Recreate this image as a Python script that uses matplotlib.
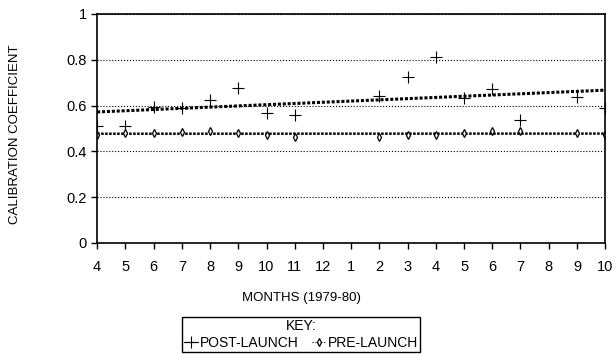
import numpy as np
import matplotlib
matplotlib.use("Agg")
import matplotlib.pyplot as plt
from matplotlib.lines import Line2D

plt.rcParams['font.family'] = ['Liberation Sans', 'DejaVu Sans']

# months Apr 1979 .. Oct 1980
month_labels = ['4', '5', '6', '7', '8', '9', '10', '11', '12', '1',
                '2', '3', '4', '5', '6', '7', '8', '9', '10']

post_idx = [0, 1, 2, 3, 4, 5, 6, 7, 10, 11, 12, 13, 14, 15, 17, 18]
post_val = [0.51, 0.51, 0.594, 0.59, 0.625, 0.677, 0.568, 0.56,
            0.642, 0.725, 0.812, 0.633, 0.672, 0.537, 0.638, 0.59]

pre_idx = [0, 1, 2, 3, 4, 5, 6, 7, 10, 11, 12, 13, 14, 15, 17, 18]
pre_val = [0.472, 0.48, 0.48, 0.485, 0.487, 0.48, 0.472, 0.463,
           0.463, 0.472, 0.472, 0.48, 0.489, 0.489, 0.48, 0.472]

fig = plt.figure(figsize=(6.15, 3.54), dpi=100)
ax = fig.add_axes([0.158, 0.3136, 0.826, 0.647])

xs = np.arange(len(month_labels))

# trend lines (least squares fits)
kp = np.polyfit(post_idx, post_val, 1)
kr = np.polyfit(pre_idx, pre_val, 1)
ax.plot(xs, np.polyval(kp, xs), color='black', lw=2.2, ls=(0, (1, 0.6)))
ax.plot(xs, np.polyval(kr, xs), color='black', lw=1.8, ls=(0, (1, 0.6)))

ax.plot(post_idx, post_val, ls='none', marker='+', ms=8, mew=0.8,
        color='black')
ax.plot(pre_idx, pre_val, ls='none', marker='d', ms=4, mew=0.9,
        mfc='white', color='black')

ax.set_xlim(0, 18)
ax.set_ylim(0, 1)
ax.set_xticks(xs)
ax.set_xticklabels(month_labels, fontsize=10.5)
ax.set_yticks([0, 0.2, 0.4, 0.6, 0.8, 1])
ax.set_yticklabels(['0', '0.2', '0.4', '0.6', '0.8', '1'], fontsize=10.5)
ax.yaxis.grid(True, ls=':', color='black', lw=0.8)
for s in ax.spines.values():
    s.set_linewidth(1.2)
ax.tick_params(direction='out', length=4, width=1)
ax.tick_params(axis='x', pad=8)

fig.text(0.025, 0.62, 'CALIBRATION COEFFICIENT', rotation=90,
         ha='center', va='center', fontsize=9.5)
fig.text(301 / 615, 1 - 298 / 354, 'MONTHS (1979-80)', ha='center',
         va='center', fontsize=9.5)

handles = [
    Line2D([], [], color='black', lw=0.8, marker='+', ms=8, mew=0.8),
    Line2D([], [], color='black', lw=0.8, ls=':', marker='d', ms=4,
           mew=0.9, mfc='white'),
]
leg = fig.legend(handles, ['POST-LAUNCH', 'PRE-LAUNCH'], loc='upper center',
                 bbox_to_anchor=(301 / 615, 1 - 310 / 354),
                 ncol=2, title='KEY:', fontsize=10, title_fontsize=10,
                 frameon=True, fancybox=False, edgecolor='black',
                 handlelength=1.0, handletextpad=0.1, columnspacing=1.0,
                 borderpad=0.15, labelspacing=0.2, framealpha=1)
leg.get_frame().set_linewidth(1.0)

fig.savefig('out.png', dpi=100)
